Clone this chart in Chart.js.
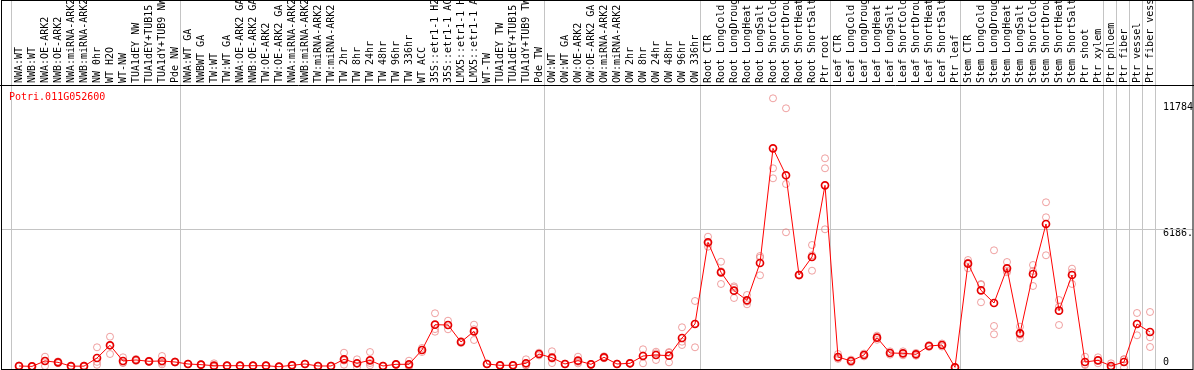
<!DOCTYPE html>
<html>
<head>
<meta charset="utf-8">
<script src="https://cdn.jsdelivr.net/npm/chart.js@4.4.0/dist/chart.umd.min.js"></script>
<style>
    html, body { margin: 0; padding: 0; background: #fff; }
    #wrap { width: 1194px; height: 370px; }
</style>
</head>
<body>
<div id="wrap"><canvas id="chart" width="1194" height="370"></canvas></div>
<script>
// Data
const geneId = 'Potri.011G052600';

const samples = [
    'NWA:WT', 'NWB:WT', 'NWA:OE-ARK2', 'NWB:OE-ARK2', 'NWA:miRNA-ARK2', 'NWB:miRNA-ARK2',
    'NW 0hr', 'WT H2O', 'WT-NW', 'TUA1dEY NW', 'TUA1dEY+TUB15', 'TUA1dY+TUB9 NW', 'Pde NW',
    'NWA:WT GA', 'NWBWT GA', 'TW:WT', 'TW:WT GA', 'NWA:OE-ARK2 GA', 'NWB:OE-ARK2 GA',
    'TW:OE-ARK2', 'TW:OE-ARK2 GA', 'NWA:miRNA-ARK2', 'NWB:miRNA-ARK2', 'TW:miRNA-ARK2',
    'TW:miRNA-ARK2', 'TW 2hr', 'TW 8hr', 'TW 24hr', 'TW 48hr', 'TW 96hr', 'TW 336hr',
    'WT ACC', '35S::etr1-1 H2O', '35S::etr1-1 ACC', 'LMX5::etr1-1 H2O', 'LMX5::etr1-1 ACC',
    'WT-TW', 'TUA1dEY TW', 'TUA1dEY+TUB15', 'TUA1dY+TUB9 TW', 'Pde TW',
    'OW:WT', 'OW:WT GA', 'OW:OE-ARK2', 'OW:OE-ARK2 GA', 'OW:miRNA-ARK2', 'OW:miRNA-ARK2',
    'OW 2hr', 'OW 8hr', 'OW 24hr', 'OW 48hr', 'OW 96hr', 'OW 336hr',
    'Root CTR', 'Root LongCold', 'Root LongDrought', 'Root LongHeat', 'Root LongSalt',
    'Root ShortCold', 'Root ShortDrought', 'Root ShortHeat', 'Root ShortSalt', 'Ptr root',
    'Leaf CTR', 'Leaf LongCold', 'Leaf LongDrought', 'Leaf LongHeat', 'Leaf LongSalt',
    'Leaf ShortCold', 'Leaf ShortDrought', 'Leaf ShortHeat', 'Leaf ShortSalt', 'Ptr leaf',
    'Stem CTR', 'Stem LongCold', 'Stem LongDrought', 'Stem LongHeat', 'Stem LongSalt',
    'Stem ShortCold', 'Stem ShortDrought', 'Stem ShortHeat', 'Stem ShortSalt', 'Ptr shoot',
    'Ptr xylem', 'Ptr phloem', 'Ptr fiber', 'Ptr vessel', 'Ptr fiber vessel'
];

const means = [
    67, 50, 290, 230, 60, 60, 423, 990, 290, 334, 276, 290, 245,
    156, 126, 80, 80, 80, 80, 80, 36, 98, 156, 67, 67, 365, 187, 320, 67, 142, 142,
    780, 1907, 1893, 1136, 1612, 156, 98, 98, 187, 601,
    437, 156, 303, 142, 454, 156, 187, 512, 557, 526, 1314, 1938,
    5578, 4241, 3422, 2994, 4656, 9765, 8563, 4121, 4923, 8117,
    468, 290, 557, 1328, 646, 632, 588, 958, 1002, 9,
    4626, 3438, 2873, 4418, 1522, 4166, 6393, 2532, 4121, 245,
    320, 67, 245, 1938, 1582
];

const replicates = [
    [40, 70, 90], [30, 50, 70], [481, 290, 67], [270, 230, 190], [40, 60, 80], [40, 60, 80],
    [900, 250, 120], [1372, 601, 997], [454, 214, 200], [380, 330, 290], [300, 270, 260],
    [512, 214, 140], [270, 240, 220],
    [170, 150, 140], [150, 120, 110], [187, 40, 20], [90, 80, 70], [90, 80, 70], [90, 80, 70],
    [90, 80, 70], [50, 36, 20], [120, 98, 80], [170, 156, 140], [80, 67, 50], [80, 67, 50],
    [659, 310, 125], [365, 187, 20], [690, 200, 98], [80, 67, 50], [160, 142, 120], [303, 80, 40],
    [869, 690, 780], [2415, 1595, 1711], [2085, 1702, 1892], [1180, 1136, 1090], [1908, 1225, 1703],
    [170, 156, 140], [120, 98, 80], [120, 98, 80], [365, 98, 98], [660, 601, 540],
    [722, 392, 197], [170, 156, 140], [481, 245, 183], [160, 142, 120], [500, 454, 410],
    [170, 156, 140], [210, 187, 165], [811, 187, 538], [704, 334, 633], [659, 230, 689],
    [1791, 1002, 1149], [2963, 900, 1951],
    [5827, 5382, 5525], [4713, 3720, 4290], [3555, 3096, 3615], [3230, 2816, 2936],
    [4967, 4108, 4893], [11993, 8875, 8429], [11548, 8175, 6023], [4150, 4121, 4090],
    [5458, 4313, 4998], [9320, 8875, 6157],
    [601, 420, 383], [350, 290, 230], [620, 557, 494], [1420, 1328, 1236], [720, 646, 572],
    [720, 632, 544], [650, 588, 526], [1000, 958, 916], [1070, 1002, 934], [9, 9, 9],
    [4789, 4420, 4669], [3720, 2905, 3689], [5221, 1849, 1479], [4700, 4313, 4241],
    [1819, 1448, 1300], [4567, 3631, 4300], [7360, 6692, 4999], [3007, 2710, 1893],
    [4403, 3720, 4240], [481, 111, 143],
    [454, 187, 320], [187, 0, 14], [365, 0, 370], [2428, 1435, 1951], [2473, 1345, 913]
];

const yTickValues = [0, 6186, 11784];
const yTickLabels = ['0', '6186.', '11784'];

// samples after which a group separator is drawn (-1 = before the first)
const groupEnds = [-1, 12, 40, 52, 62, 72, 83, 84, 85, 86, 87];

const monoFont = 'DejaVu Sans Mono';

// Separators, gridline, frame and gene id
const framePlugin = {
    id: 'frame',
    beforeDatasetsDraw(chart) {
        const { ctx, chartArea, scales } = chart;
        ctx.save();
        ctx.strokeStyle = '#c4c4c4';
        ctx.lineWidth = 1;
        groupEnds.forEach(i => {
            const px = Math.round(scales.x.getPixelForValue(i + 0.4)) + 0.5;
            ctx.beginPath();
            ctx.moveTo(px, 0);
            ctx.lineTo(px, chartArea.bottom);
            ctx.stroke();
        });
        const gy = Math.round(scales.y.getPixelForValue(yTickValues[1])) + 0.5;
        ctx.beginPath();
        ctx.moveTo(1, gy);
        ctx.lineTo(chart.width - 1, gy);
        ctx.stroke();
        ctx.restore();
    },
    afterDraw(chart) {
        const { ctx, chartArea } = chart;
        ctx.save();
        ctx.strokeStyle = '#000';
        ctx.lineWidth = 1;
        ctx.strokeRect(1.5, 0.5, chart.width - 2.5, chartArea.bottom);
        ctx.beginPath();
        ctx.moveTo(0, chartArea.top + 0.5);
        ctx.lineTo(chart.width, chartArea.top + 0.5);
        ctx.stroke();
        ctx.fillStyle = '#ff0000';
        ctx.font = '10px "' + monoFont + '"';
        ctx.textBaseline = 'middle';
        ctx.fillText(geneId, 9, chartArea.top + 12);
        ctx.restore();
    }
};

const replicatePoints = [];
replicates.forEach((reps, i) => {
    reps.forEach(v => replicatePoints.push({ x: i, y: v }));
});

new Chart(document.getElementById('chart'), {
    type: 'scatter',
    data: {
        datasets: [
            {
                label: 'mean',
                data: means.map((v, i) => ({ x: i, y: v })),
                showLine: true,
                borderColor: '#ff0000',
                borderWidth: 1,
                pointRadius: 3.5,
                pointBorderWidth: 1.7,
                pointBorderColor: '#e60000',
                pointBackgroundColor: 'rgba(0,0,0,0)',
                order: 0
            },
            {
                label: 'replicates',
                data: replicatePoints,
                pointRadius: 3.5,
                pointBorderWidth: 1,
                pointBorderColor: 'rgba(232,120,120,0.7)',
                pointBackgroundColor: 'rgba(0,0,0,0)',
                order: 1
            }
        ]
    },
    options: {
        responsive: false,
        animation: false,
        devicePixelRatio: 1,
        layout: {
            autoPadding: false,
            padding: { left: 1, top: 0, right: 0, bottom: 1 }
        },
        plugins: {
            legend: { display: false },
            tooltip: { enabled: false }
        },
        scales: {
            x: {
                type: 'linear',
                position: 'top',
                min: -18 / 13,
                max: 88,
                grid: { display: false, drawTicks: false },
                border: { display: false },
                afterBuildTicks: axis => {
                    axis.ticks = samples.map((s, i) => ({ value: i }));
                },
                afterFit: axis => {
                    axis.height = 85;
                    axis.paddingLeft = 0;
                    axis.paddingRight = 0;
                },
                ticks: {
                    autoSkip: false,
                    minRotation: 90,
                    maxRotation: 90,
                    padding: 2,
                    labelOffset: 12,
                    color: '#000',
                    font: { family: monoFont, size: 10 },
                    callback: v => samples[v] ?? ''
                }
            },
            y: {
                type: 'linear',
                position: 'right',
                min: -67,
                max: 12586,
                grid: { display: false, drawTicks: false },
                border: { display: false },
                afterBuildTicks: axis => {
                    axis.ticks = yTickValues.map(v => ({ value: v }));
                },
                afterFit: axis => {
                    axis.width = 31;
                    axis.paddingTop = 0;
                    axis.paddingBottom = 0;
                },
                ticks: {
                    padding: 0,
                    color: '#000',
                    font: ctx => ({
                        family: monoFont,
                        size: 10,
                        lineHeight: ctx.tick && ctx.tick.value === 0 ? 1.1 : 0.9
                    }),
                    callback: v => {
                        const label = yTickLabels[yTickValues.indexOf(v)];
                        return v === 0 ? [label, ''] : ['', label];
                    }
                }
            }
        }
    },
    plugins: [framePlugin]
});
</script>
</body>
</html>
